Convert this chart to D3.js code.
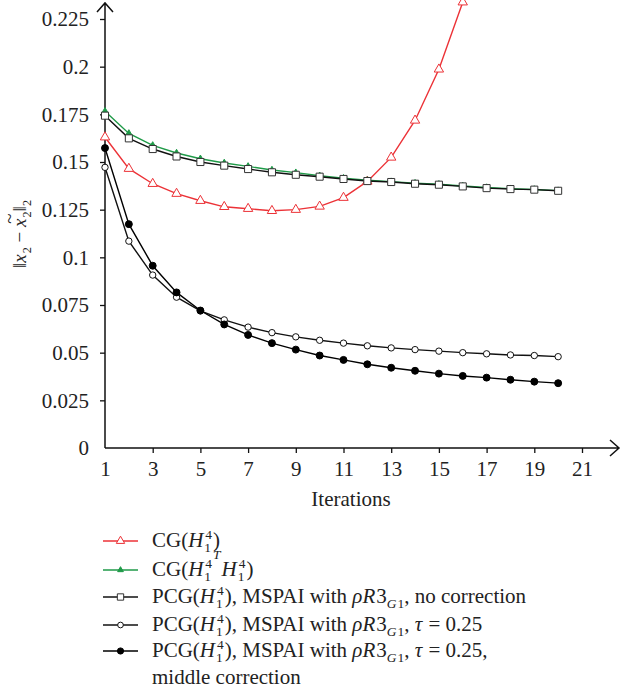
<!DOCTYPE html>
<html>
<head>
<meta charset="utf-8">
<script src="https://cdn.jsdelivr.net/npm/d3@7"></script>
</head>
<body style="margin:0; background:#fff">
<svg id="chart" width="621" height="694"></svg>
<script>
// Données
const iterations = [1, 2, 3, 4, 5, 6, 7, 8, 9, 10, 11, 12, 13, 14, 15, 16, 17, 18, 19, 20];
const cgH = [0.163, 0.1465, 0.1386, 0.1334, 0.1297, 0.1265, 0.1255, 0.1244, 0.125, 0.1267, 0.1313, 0.1398, 0.1524, 0.1718, 0.1986, 0.2338];
const cgHtH = [0.1766, 0.165, 0.1587, 0.1547, 0.1517, 0.1495, 0.1477, 0.1458, 0.1444, 0.1428, 0.1415, 0.1404, 0.1397, 0.1389, 0.1383, 0.1374, 0.1366, 0.136, 0.1356, 0.135];
const pcgNoCorr = [0.1743, 0.1624, 0.1568, 0.1529, 0.15, 0.1481, 0.1463, 0.1446, 0.1433, 0.1423, 0.1411, 0.14, 0.1395, 0.1386, 0.1381, 0.1372, 0.1363, 0.1358, 0.1355, 0.1349];
const pcgTau = [0.1472, 0.1085, 0.0907, 0.0791, 0.0719, 0.0672, 0.0634, 0.0605, 0.0583, 0.0565, 0.055, 0.0536, 0.0525, 0.0516, 0.0508, 0.05, 0.0494, 0.0488, 0.0485, 0.0479];
const pcgMiddle = [0.1573, 0.1174, 0.0956, 0.0816, 0.0721, 0.0648, 0.0593, 0.055, 0.0516, 0.0485, 0.0462, 0.0439, 0.0421, 0.0405, 0.039, 0.0378, 0.0369, 0.0358, 0.0348, 0.034];

const xTicks = [1, 3, 5, 7, 9, 11, 13, 15, 17, 19, 21];
const yTicks = [0, 0.025, 0.05, 0.075, 0.1, 0.125, 0.15, 0.175, 0.2, 0.225];
const yTickLabels = ["0", "0.025", "0.05", "0.075", "0.1", "0.125", "0.15", "0.175", "0.2", "0.225"];

const svg = d3.select("#chart");
const FONT = "'Liberation Serif', 'Times New Roman', serif";
const FS = 21;

var x = d3.scaleLinear().domain([1, 21]).range([105, 582]);
var y = d3.scaleLinear().domain([0, 0.225]).range([448, 19]);

function serif(sel, size) {
  return sel.style("font-family", FONT).style("font-size", size + "px").style("fill", "#222");
}

// Texte enrichi : italique, indices, exposants
function rich(g, x0, y0, parts, size) {
  var cx = x0;
  parts.forEach(function (p) {
    var small = size * 0.64;
    if (p.ss) {
      var a = serif(g.append("text"), small).attr("x", cx).attr("y", y0 + size * 0.26).text(p.ss[0]);
      var b = serif(g.append("text"), small).attr("x", cx + 1).attr("y", y0 - size * 0.4).text(p.ss[1]);
      cx += Math.max(a.node().getComputedTextLength(), b.node().getComputedTextLength() + 1) + 1;
      return;
    }
    var dy = p.sub ? size * 0.26 : p.sup ? -size * 0.8 : 0;
    var t = serif(g.append("text"), p.sub || p.sup ? small : size)
      .attr("x", cx).attr("y", y0 + dy)
      .style("font-style", p.it ? "italic" : "normal")
      .text(p.t.replace(/ /g, "\u00A0"));
    var w = t.node().getComputedTextLength();
    if (p.tilde) {
      serif(g.append("text"), size).attr("x", cx + w * 0.5 + 4).attr("y", y0 - size * 0.52)
        .attr("text-anchor", "middle").text("~");
    }
    cx += w + (p.it ? 1 : 0);
  });
  return cx;
}

// Axe X
var xAxis = svg.append("g").attr("transform", "translate(0,448)")
  .call(d3.axisBottom(x).tickValues(xTicks).tickSize(5).tickPadding(8).tickFormat(d3.format("d")));
xAxis.select(".domain").remove();
xAxis.selectAll(".tick line").attr("stroke", "#111").attr("stroke-width", 1.3)
  .filter(function (d) { return d === 1; }).remove();
serif(xAxis.selectAll(".tick text"), FS);

// Axe Y
var yAxis = svg.append("g").attr("transform", "translate(105,0)")
  .call(d3.axisLeft(y).tickValues(yTicks).tickSize(5).tickPadding(11)
    .tickFormat(function (d, i) { return yTickLabels[i]; }));
yAxis.select(".domain").remove();
yAxis.selectAll(".tick line").attr("stroke", "#111").attr("stroke-width", 1.3)
  .filter(function (d) { return d === 0; }).remove();
serif(yAxis.selectAll(".tick text"), FS);

// Lignes des axes avec flèches
svg.append("path").attr("d", "M105,448H619M610,440L619,448L610,456")
  .attr("fill", "none").attr("stroke", "#111").attr("stroke-width", 1.5);
svg.append("path").attr("d", "M105,448V3M97,12L105,3L113,12")
  .attr("fill", "none").attr("stroke", "#111").attr("stroke-width", 1.5);

// Titres des axes
serif(svg.append("text"), FS).attr("x", 351).attr("y", 506).attr("text-anchor", "middle")
  .text("Iterations");

var yl = svg.append("g").attr("transform", "translate(26,268) rotate(-90)");
rich(yl, 0, 0, [
  { t: "\u2016" }, { t: "x", it: true }, { t: "2", sub: true }, { t: " \u2212 " },
  { t: "x", it: true, tilde: true }, { t: "2", sub: true }, { t: "\u2016" }, { t: "2", sub: true }
], 19);

// Séries
const RED = "#ec3237", GREEN = "#1f9a48";
const series = [
  { name: "cgH", values: cgH, color: RED, sym: d3.symbolTriangle, size: 38, fill: "#fff", mstroke: RED },
  { name: "cgHtH", values: cgHtH, color: GREEN, sym: d3.symbolTriangle, size: 18, fill: GREEN, mstroke: GREEN },
  { name: "pcgNoCorr", values: pcgNoCorr, color: "#111", sym: d3.symbolSquare, size: 50, fill: "#fff", mstroke: "#333" },
  { name: "pcgTau", values: pcgTau, color: "#111", sym: d3.symbolCircle, size: 32, fill: "#fff", mstroke: "#111" },
  { name: "pcgMiddle", values: pcgMiddle, color: "#000", sym: d3.symbolCircle, size: 38, fill: "#000", mstroke: "#000" }
];

var line = d3.line()
  .x(function (d, i) { return x(iterations[i]); })
  .y(function (d) { return y(d); });

series.forEach(function (s) {
  var g = svg.append("g").attr("class", s.name);
  g.append("path").datum(s.values).attr("d", line)
    .attr("fill", "none").attr("stroke", s.color).attr("stroke-width", 1.4);
  g.selectAll("path.m").data(s.values).enter().append("path").attr("class", "m")
    .attr("transform", function (d, i) { return "translate(" + x(iterations[i]) + "," + y(d) + ")"; })
    .attr("d", d3.symbol().type(s.sym).size(s.size))
    .attr("fill", s.fill).attr("stroke", s.mstroke).attr("stroke-width", 1);
});

// Légende
const legendRows = [541, 570, 597, 625, 651];
const legendTexts = [
  [{ t: "CG(" }, { t: "H", it: true }, { ss: ["1", "4"] }, { t: ")" }],
  [{ t: "CG(" }, { t: "H", it: true }, { ss: ["1", "4"] }, { t: "T", it: true, sup: true }, { t: "H", it: true }, { ss: ["1", "4"] }, { t: ")" }],
  [{ t: "PCG(" }, { t: "H", it: true }, { ss: ["1", "4"] }, { t: "), MSPAI with " }, { t: "\u03C1R", it: true }, { t: "3" }, { t: "G", it: true, sub: true }, { t: "1", sub: true }, { t: ", no correction" }],
  [{ t: "PCG(" }, { t: "H", it: true }, { ss: ["1", "4"] }, { t: "), MSPAI with " }, { t: "\u03C1R", it: true }, { t: "3" }, { t: "G", it: true, sub: true }, { t: "1", sub: true }, { t: ", " }, { t: "\u03C4", it: true }, { t: " = 0.25" }],
  [{ t: "PCG(" }, { t: "H", it: true }, { ss: ["1", "4"] }, { t: "), MSPAI with " }, { t: "\u03C1R", it: true }, { t: "3" }, { t: "G", it: true, sub: true }, { t: "1", sub: true }, { t: ", " }, { t: "\u03C4", it: true }, { t: " = 0.25," }]
];

var leg = svg.append("g");
series.forEach(function (s, i) {
  var ly = legendRows[i];
  leg.append("line").attr("x1", 103).attr("x2", 138).attr("y1", ly).attr("y2", ly)
    .attr("stroke", s.color).attr("stroke-width", 1.4);
  leg.append("path").attr("transform", "translate(120.5," + ly + ")")
    .attr("d", d3.symbol().type(s.sym).size(s.size * 0.8))
    .attr("fill", s.fill).attr("stroke", s.mstroke).attr("stroke-width", 1);
  rich(leg, 152, ly + 6, legendTexts[i], 21);
});
serif(leg.append("text"), 21).attr("x", 152).attr("y", 684).text("middle correction");
</script>
</body>
</html>
